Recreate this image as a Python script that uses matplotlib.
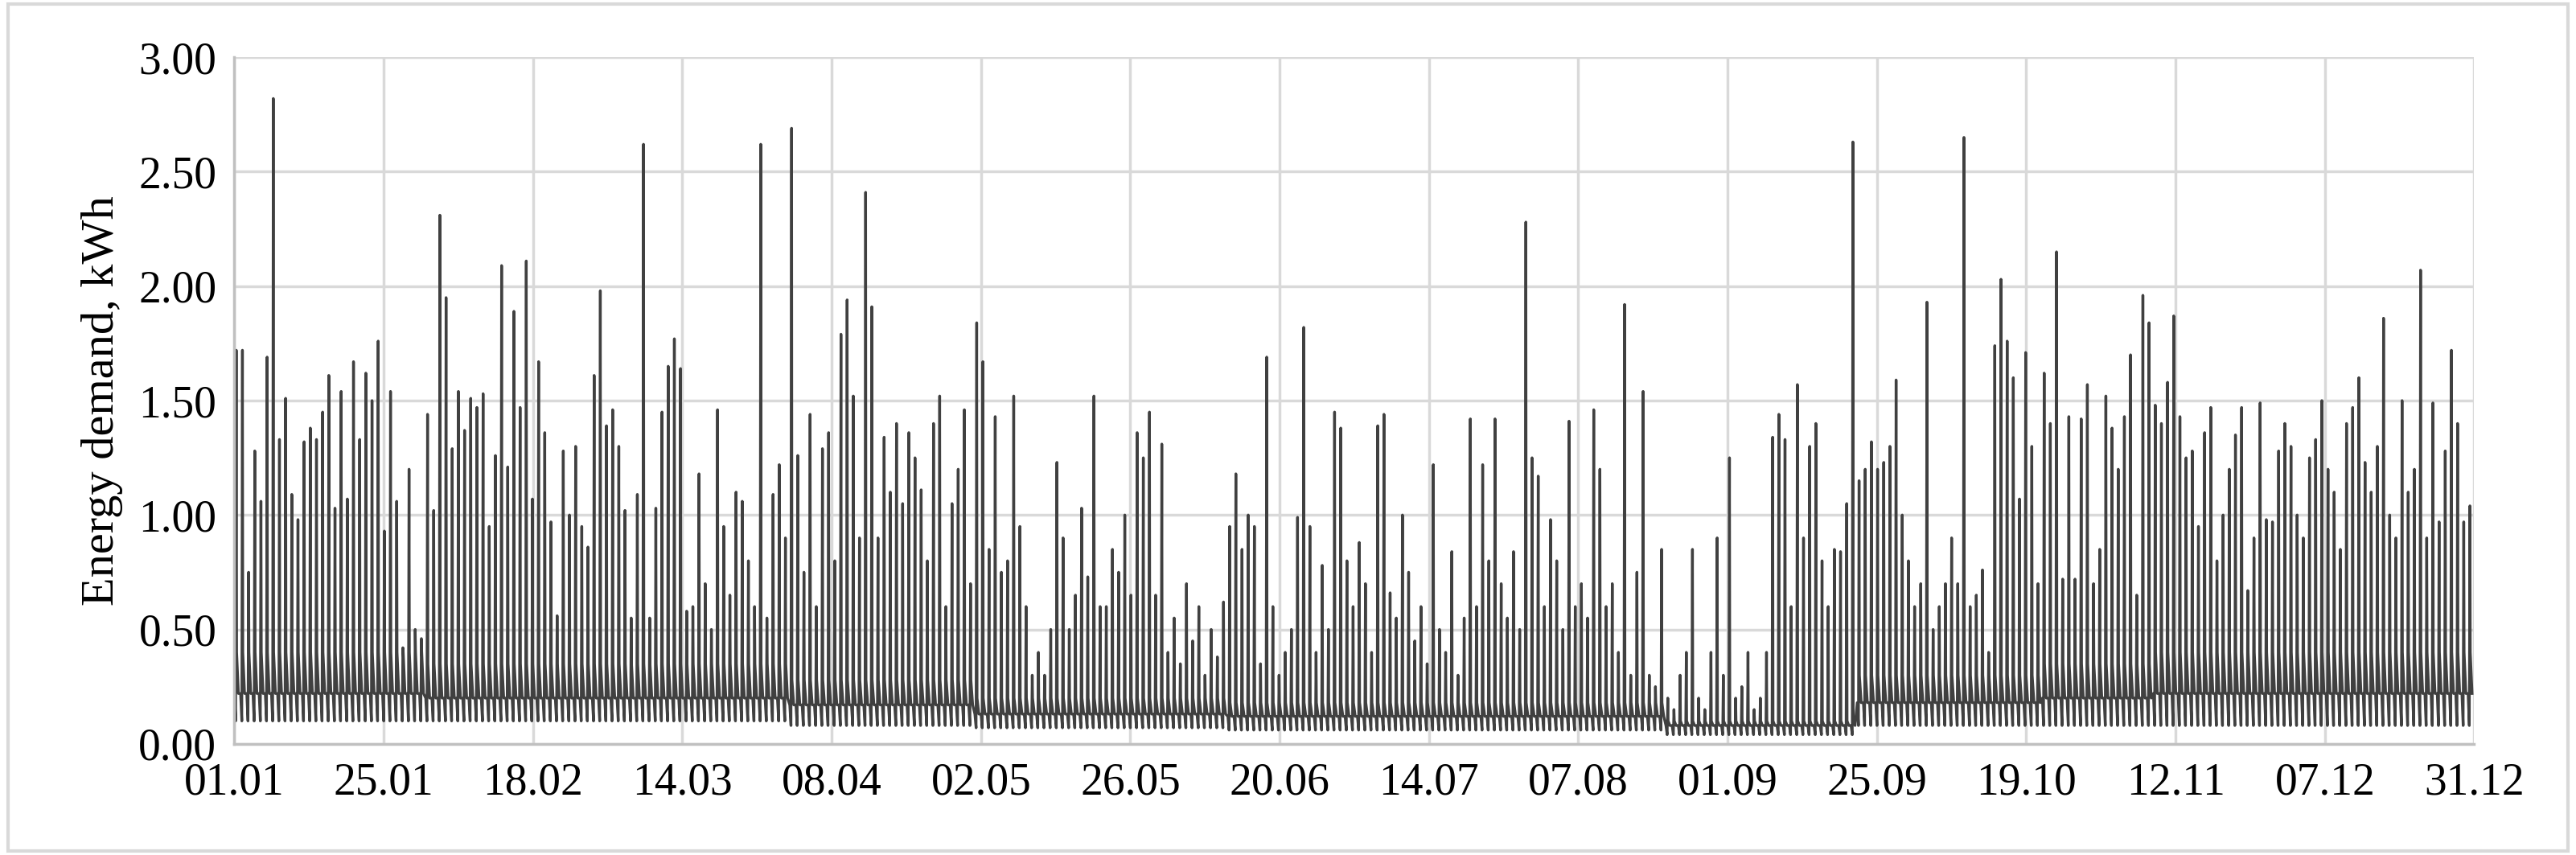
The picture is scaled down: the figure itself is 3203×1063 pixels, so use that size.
import numpy as np
import matplotlib.pyplot as plt

# daily peak demand, kWh in consecutive segments
peak_s1 = [1.72, 1.72, 0.75, 1.28, 1.06, 1.69, 2.82, 1.33, 1.51, 1.09, 0.98, 1.32, 1.38, 1.33, 1.45, 1.61,
           1.03, 1.54, 1.07, 1.67, 1.33, 1.62, 1.50, 1.76, 0.93, 1.54, 1.06, 0.42, 1.20, 0.50, 0.46]
peak_s2 = [1.44, 1.02, 2.31, 1.95, 1.29, 1.54, 1.37, 1.51, 1.47, 1.53, 0.95, 1.26, 2.09, 1.21, 1.89, 1.47,
           2.11, 1.07, 1.67, 1.36, 0.97, 0.56, 1.28, 1.00, 1.30, 0.95, 0.86, 1.61]
peak_s3 = [1.98, 1.39, 1.46, 1.30, 1.02, 0.55, 1.09, 2.62, 0.55, 1.03, 1.45, 1.65, 1.77, 1.64, 0.58, 0.60,
           1.18, 0.70, 0.50, 1.46, 0.95, 0.65, 1.10, 1.06, 0.80, 0.60, 2.62, 0.55, 1.09, 1.22, 0.90]
peak_s4 = [2.69, 1.26, 0.75, 1.44, 0.60, 1.29, 1.36, 0.80, 1.79, 1.94, 1.52, 0.90, 2.41, 1.91, 0.90, 1.34,
           1.10, 1.40, 1.05, 1.36, 1.25, 1.11, 0.80, 1.40, 1.52, 0.60, 1.05, 1.20, 1.46, 0.70]
peak_s5 = [1.84, 1.67, 0.85, 1.43, 0.75, 0.80, 1.52, 0.95, 0.60, 0.30, 0.40, 0.30, 0.50, 1.23, 0.90, 0.50,
           0.65, 1.03, 0.73, 1.52, 0.60, 0.60, 0.85, 0.75, 1.00, 0.65, 1.36, 1.25, 1.45, 0.65, 1.31, 0.40,
           0.55, 0.35, 0.70, 0.45, 0.60, 0.30, 0.50, 0.38, 0.62]
peak_s6 = [0.95, 1.18, 0.85, 1.00, 0.95, 0.35, 1.69, 0.60, 0.30, 0.40, 0.50, 0.99, 1.82, 0.95, 0.40, 0.78,
           0.50, 1.45, 1.38, 0.80, 0.60, 0.88, 0.70, 0.40, 1.39, 1.44, 0.66, 0.55, 1.00, 0.75, 0.45, 0.60,
           0.35, 1.22, 0.50, 0.40, 0.84, 0.30, 0.55, 1.42]
peak_s7 = [0.60, 1.22, 0.80, 1.42, 0.70, 0.55, 0.84, 0.50, 2.28, 1.25, 1.17, 0.60, 0.98, 0.80, 0.50, 1.41,
           0.60, 0.70, 0.55, 1.46, 1.20, 0.60, 0.70, 0.40, 1.92, 0.30, 0.75, 1.54, 0.30, 0.25, 0.85]
peak_s8 = [0.20, 0.15, 0.30, 0.40, 0.85, 0.20, 0.15, 0.40, 0.90, 0.30, 1.25, 0.20, 0.25, 0.40, 0.15, 0.20,
           0.40, 1.34, 1.44, 1.33, 0.60, 1.57, 0.90, 1.30, 1.40, 0.80, 0.60, 0.85, 0.84, 1.05, 2.63]
peak_s9 = [1.15, 1.20, 1.32, 1.20, 1.23, 1.30, 1.59, 1.00, 0.80, 0.60, 0.70, 1.93, 0.50, 0.60, 0.70, 0.90,
           0.70, 2.65, 0.60, 0.65, 0.76, 0.40, 1.74, 2.03, 1.76, 1.60, 1.07, 1.71, 1.30, 0.70]
peak_s10 = [1.62, 1.40, 2.15, 0.72, 1.43, 0.72, 1.42, 1.57, 0.70, 0.85, 1.52, 1.38, 1.20, 1.43, 1.70, 0.65,
            1.96, 1.84]
peak_s11 = [1.48, 1.40, 1.58, 1.87, 1.43, 1.25, 1.28, 0.95, 1.36, 1.47, 0.80, 1.00, 1.20, 1.35, 1.47, 0.67,
            0.90, 1.49, 0.98, 0.97, 1.28]
peak_s12 = [1.40, 1.30, 1.00, 0.90, 1.25, 1.33, 1.50, 1.20, 1.10, 0.85, 1.40, 1.47, 1.60, 1.23, 1.10, 1.30,
            1.86, 1.00, 0.90, 1.50, 1.10, 1.20, 2.07, 0.90, 1.49, 0.97, 1.28, 1.72, 1.40, 0.97, 1.04]

# typical daytime level, evening level and night minimum per segment
mid_seg = [0.22, 0.20, 0.20, 0.17, 0.13, 0.12, 0.12, 0.08, 0.18, 0.20, 0.22, 0.22]
eve_seg = [0.40, 0.35, 0.35, 0.28, 0.20, 0.18, 0.18, 0.10, 0.30, 0.35, 0.40, 0.40]
low_seg = [0.10, 0.10, 0.10, 0.08, 0.07, 0.06, 0.06, 0.04, 0.08, 0.08, 0.08, 0.08]

tick_labels = ['01.01', '25.01', '18.02', '14.03', '08.04', '02.05', '26.05', '20.06',
               '14.07', '07.08', '01.09', '25.09', '19.10', '12.11', '07.12', '31.12']

segments = [peak_s1, peak_s2, peak_s3, peak_s4, peak_s5, peak_s6,
            peak_s7, peak_s8, peak_s9, peak_s10, peak_s11, peak_s12]

# intraday profile per day: mid -> low -> peak -> evening -> mid
t, y = [], []
day = 0
offs = [0.0, 0.2, 0.3, 0.36, 0.65]
for m, peaks in enumerate(segments):
    for pk in peaks:
        vals = [mid_seg[m], low_seg[m], pk, eve_seg[m], mid_seg[m]]
        for o, v in zip(offs, vals):
            t.append(day + o)
            y.append(v)
        day += 1
t = np.array(t)
y = np.array(y)

plt.rcParams['font.family'] = ['Liberation Serif', 'DejaVu Serif']
fig = plt.figure(figsize=(32.03, 10.63), dpi=100)
ax = fig.add_axes([0.091, 0.13, 0.8695, 0.803])
ax.plot(t, y, color='#404040', lw=2.4)

ax.set_xlim(0, day)
ax.set_ylim(0, 3)
ax.set_yticks(np.arange(0, 3.01, 0.5))
ax.set_yticklabels(['{:.2f}'.format(v) for v in np.arange(0, 3.01, 0.5)])
ax.set_xticks(np.linspace(0, day, len(tick_labels)))
ax.set_xticklabels(tick_labels)
ax.tick_params(labelsize=40, length=0, pad=16)
ax.grid(True, color='#d9d9d9', lw=2.5)
ax.set_axisbelow(True)
for s in ['top', 'right']:
    ax.spines[s].set_visible(False)
for s in ['left', 'bottom']:
    ax.spines[s].set_color('#c0c0c0')
    ax.spines[s].set_linewidth(2.5)
ax.set_ylabel('Energy demand, kWh', fontsize=42, labelpad=14)

fig.patches.append(plt.Rectangle((0.003, 0.005), 0.994, 0.99, transform=fig.transFigure,
                                 fill=False, edgecolor='#d9d9d9', lw=3))
fig.savefig('out.png', dpi=100)
